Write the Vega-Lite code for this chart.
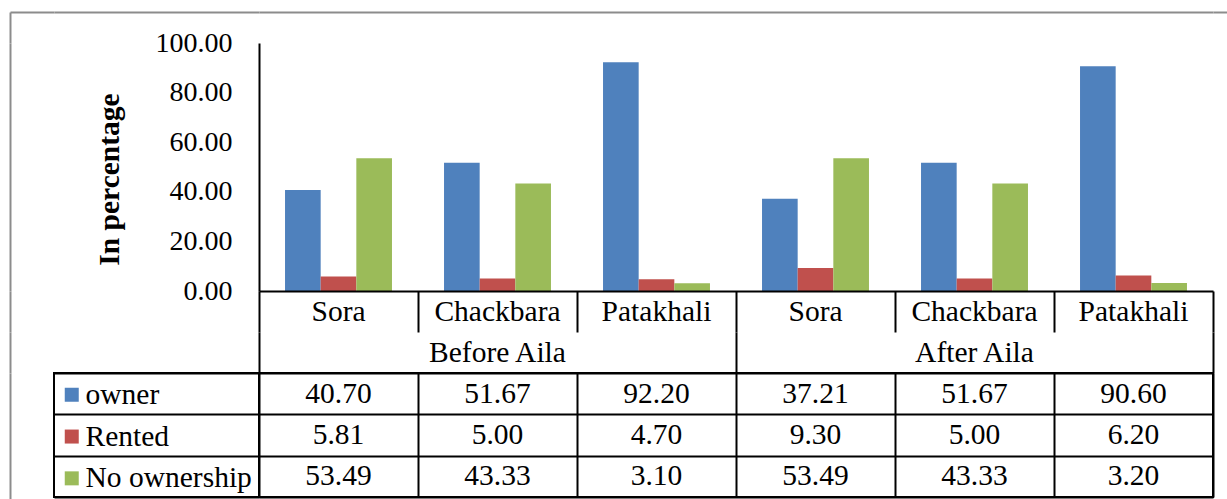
{
  "$schema": "https://vega.github.io/schema/vega-lite/v6.json",
  "background": "white",
  "padding": {"left": 8, "top": 11, "right": 0, "bottom": 0},
  "columns": 2,
  "spacing": 0,
  "bounds": "flush",
  "config": {
    "view": {"stroke": null},
    "font": "Liberation Serif",
    "axis": {"labelFont": "Liberation Serif", "titleFont": "Liberation Serif", "labelColor": "black", "titleColor": "black"},
    "text": {"font": "Liberation Serif", "fontSize": 29.5, "color": "black"}
  },
  "datasets": {
    "blank": [{"k": "a"}],
    "table": [
      {"period": "Before Aila", "place": "Sora", "col": "Before Aila|Sora", "type": "owner", "value": 40.70},
      {"period": "Before Aila", "place": "Sora", "col": "Before Aila|Sora", "type": "Rented", "value": 5.81},
      {"period": "Before Aila", "place": "Sora", "col": "Before Aila|Sora", "type": "No ownership", "value": 53.49},
      {"period": "Before Aila", "place": "Chackbara", "col": "Before Aila|Chackbara", "type": "owner", "value": 51.67},
      {"period": "Before Aila", "place": "Chackbara", "col": "Before Aila|Chackbara", "type": "Rented", "value": 5.00},
      {"period": "Before Aila", "place": "Chackbara", "col": "Before Aila|Chackbara", "type": "No ownership", "value": 43.33},
      {"period": "Before Aila", "place": "Patakhali", "col": "Before Aila|Patakhali", "type": "owner", "value": 92.20},
      {"period": "Before Aila", "place": "Patakhali", "col": "Before Aila|Patakhali", "type": "Rented", "value": 4.70},
      {"period": "Before Aila", "place": "Patakhali", "col": "Before Aila|Patakhali", "type": "No ownership", "value": 3.10},
      {"period": "After Aila", "place": "Sora", "col": "After Aila|Sora", "type": "owner", "value": 37.21},
      {"period": "After Aila", "place": "Sora", "col": "After Aila|Sora", "type": "Rented", "value": 9.30},
      {"period": "After Aila", "place": "Sora", "col": "After Aila|Sora", "type": "No ownership", "value": 53.49},
      {"period": "After Aila", "place": "Chackbara", "col": "After Aila|Chackbara", "type": "owner", "value": 51.67},
      {"period": "After Aila", "place": "Chackbara", "col": "After Aila|Chackbara", "type": "Rented", "value": 5.00},
      {"period": "After Aila", "place": "Chackbara", "col": "After Aila|Chackbara", "type": "No ownership", "value": 43.33},
      {"period": "After Aila", "place": "Patakhali", "col": "After Aila|Patakhali", "type": "owner", "value": 90.60},
      {"period": "After Aila", "place": "Patakhali", "col": "After Aila|Patakhali", "type": "Rented", "value": 6.20},
      {"period": "After Aila", "place": "Patakhali", "col": "After Aila|Patakhali", "type": "No ownership", "value": 3.20}
    ]
  },
  "concat": [
    {"width": 205, "height": 248, "data": {"name": "blank"}, "mark": {"type": "text", "opacity": 0},
     "encoding": {
       "x": {"field": "k", "type": "nominal", "axis": {"orient": "top", "offset": 31, "domain": true, "domainColor": "#8c8c8c", "domainWidth": 2, "ticks": true, "tickColor": "#8c8c8c", "tickWidth": 2, "tickSize": -31, "tickOffset": -146.5, "labels": false, "grid": false, "title": null}},
       "y": {"field": "k", "type": "nominal", "axis": {"orient": "left", "offset": 44, "domain": true, "domainColor": "#8c8c8c", "domainWidth": 2, "ticks": true, "tickColor": "#8c8c8c", "tickWidth": 2, "tickSize": -44, "tickOffset": -155, "labels": false, "grid": false, "title": null}},
       "text": {"field": "k"}}},
    {
      "width": 954, "height": 248,
      "data": {"name": "table"},
      "mark": {"type": "bar"},
      "encoding": {
        "x": {"field": "col", "type": "nominal",
          "scale": {"domain": ["Before Aila|Sora", "Before Aila|Chackbara", "Before Aila|Patakhali", "After Aila|Sora", "After Aila|Chackbara", "After Aila|Patakhali"], "paddingInner": 0, "paddingOuter": 0},
          "axis": {"orient": "top", "offset": 31, "domain": true, "domainColor": "#8c8c8c", "domainWidth": 2, "labels": false, "ticks": false, "grid": false, "title": null}},
        "xOffset": {"field": "type", "type": "nominal", "scale": {"domain": ["owner", "Rented", "No ownership"], "paddingInner": 0, "paddingOuter": 0.73}},
        "y": {"field": "value", "type": "quantitative",
          "scale": {"domain": [0, 100]},
          "axis": {"values": [0, 20, 40, 60, 80, 100], "format": ".2f", "ticks": false, "grid": false, "domainColor": "black", "domainWidth": 2, "labelFontSize": 28, "labelPadding": 27, "title": "In percentage", "titleFontSize": 29.5, "titleFontWeight": "bold", "titlePadding": 31, "titleY": 136}},
        "color": {"field": "type", "type": "nominal",
          "scale": {"domain": ["owner", "Rented", "No ownership"], "range": ["#4F81BD", "#C0504D", "#9BBB59"]},
          "legend": {"orient": "none", "legendX": 3, "legendY": 337, "title": null, "symbolType": "square", "symbolSize": 196, "symbolStrokeWidth": 0, "labelFontSize": 29.5, "labelFont": "Liberation Serif", "labelColor": "black", "labelOffset": -1, "labelLimit": 400, "rowPadding": 10.8, "padding": 0}}
      }
    },
    {"width": 205, "height": 41, "data": {"name": "blank"}, "mark": {"type": "text", "opacity": 0},
     "encoding": {
       "x": {"field": "k", "type": "nominal", "axis": null},
       "y": {"field": "k", "type": "nominal", "axis": {"orient": "left", "offset": 44, "domain": true, "domainColor": "#8c8c8c", "domainWidth": 2, "ticks": false, "labels": false, "grid": false, "title": null}},
       "text": {"field": "k"}}},
    {
      "width": 954, "height": 41,
      "data": {"name": "table"},
      "transform": [{"filter": "datum.type === 'owner'"}],
      "mark": {"type": "text", "font": "Liberation Serif", "fontSize": 29.5, "color": "black"},
      "encoding": {
        "x": {"field": "col", "type": "nominal",
          "scale": {"domain": ["Before Aila|Sora", "Before Aila|Chackbara", "Before Aila|Patakhali", "After Aila|Sora", "After Aila|Chackbara", "After Aila|Patakhali"], "paddingInner": 0, "paddingOuter": 0},
          "axis": {"orient": "top", "tickBand": "extent", "grid": true, "gridColor": "black", "gridWidth": 2, "gridOpacity": 1, "domain": true, "domainColor": "black", "domainWidth": 2, "labels": false, "ticks": false, "title": null}},
        "y": {"field": "type", "type": "nominal", "axis": {"orient": "right", "domain": false, "labels": false, "ticks": true, "tickColor": "#8c8c8c", "tickWidth": 2, "tickSize": 15, "tickOffset": -299.5, "grid": false, "title": null}},
        "text": {"field": "place"}
      }
    },
    {"width": 205, "height": 41, "data": {"name": "blank"}, "mark": {"type": "text", "opacity": 0},
     "encoding": {
       "x": {"field": "k", "type": "nominal", "axis": null},
       "y": {"field": "k", "type": "nominal", "axis": {"orient": "left", "offset": 44, "domain": true, "domainColor": "#8c8c8c", "domainWidth": 2, "ticks": false, "labels": false, "grid": false, "title": null}},
       "text": {"field": "k"}}},
    {
      "width": 954, "height": 41,
      "data": {"name": "table"},
      "transform": [{"filter": "datum.type === 'owner' && datum.place === 'Sora'"}],
      "mark": {"type": "text", "font": "Liberation Serif", "fontSize": 29.5, "color": "black"},
      "encoding": {
        "x": {"field": "period", "type": "nominal",
          "scale": {"domain": ["Before Aila", "After Aila"], "paddingInner": 0, "paddingOuter": 0},
          "axis": {"orient": "top", "tickBand": "extent", "grid": true, "gridColor": "black", "gridWidth": 2, "gridOpacity": 1, "domain": false, "labels": false, "ticks": false, "title": null}},
        "y": {"field": "type", "type": "nominal", "axis": null},
        "text": {"field": "period"}
      }
    },
    {
      "width": 205, "height": 124,
      "view": {"stroke": "black", "strokeWidth": 2},
      "data": {"name": "table"},
      "transform": [{"filter": "datum.col === 'Before Aila|Sora'"}],
      "mark": {"type": "text", "opacity": 0},
      "encoding": {
        "x": {"field": "period", "type": "nominal", "axis": {"orient": "top", "domain": false, "labels": false, "ticks": true, "tickColor": "#8c8c8c", "tickWidth": 2, "tickSize": -126, "tickOffset": -146.5, "grid": false, "title": null}},
        "y": {"field": "type", "type": "nominal",
          "scale": {"domain": ["owner", "Rented", "No ownership"], "paddingInner": 0, "paddingOuter": 0},
          "axis": {"tickBand": "extent", "grid": true, "gridColor": "black", "gridWidth": 2, "gridOpacity": 1, "domain": false, "labels": false, "ticks": false, "title": null}},
        "text": {"field": "type"}
      }
    },
    {
      "width": 954, "height": 124,
      "view": {"stroke": "black", "strokeWidth": 2},
      "data": {"name": "table"},
      "mark": {"type": "text", "font": "Liberation Serif", "fontSize": 29.5, "color": "black"},
      "encoding": {
        "x": {"field": "col", "type": "nominal",
          "scale": {"domain": ["Before Aila|Sora", "Before Aila|Chackbara", "Before Aila|Patakhali", "After Aila|Sora", "After Aila|Chackbara", "After Aila|Patakhali"], "paddingInner": 0, "paddingOuter": 0},
          "axis": {"orient": "top", "tickBand": "extent", "grid": true, "gridColor": "black", "gridWidth": 2, "gridOpacity": 1, "domain": false, "labels": false, "ticks": false, "title": null}},
        "y": {"field": "type", "type": "nominal",
          "scale": {"domain": ["owner", "Rented", "No ownership"], "paddingInner": 0, "paddingOuter": 0},
          "axis": {"tickBand": "extent", "grid": true, "gridColor": "black", "gridWidth": 2, "gridOpacity": 1, "domain": false, "labels": false, "ticks": false, "title": null}},
        "text": {"field": "value", "type": "quantitative", "format": ".2f"}
      }
    }
  ]
}
